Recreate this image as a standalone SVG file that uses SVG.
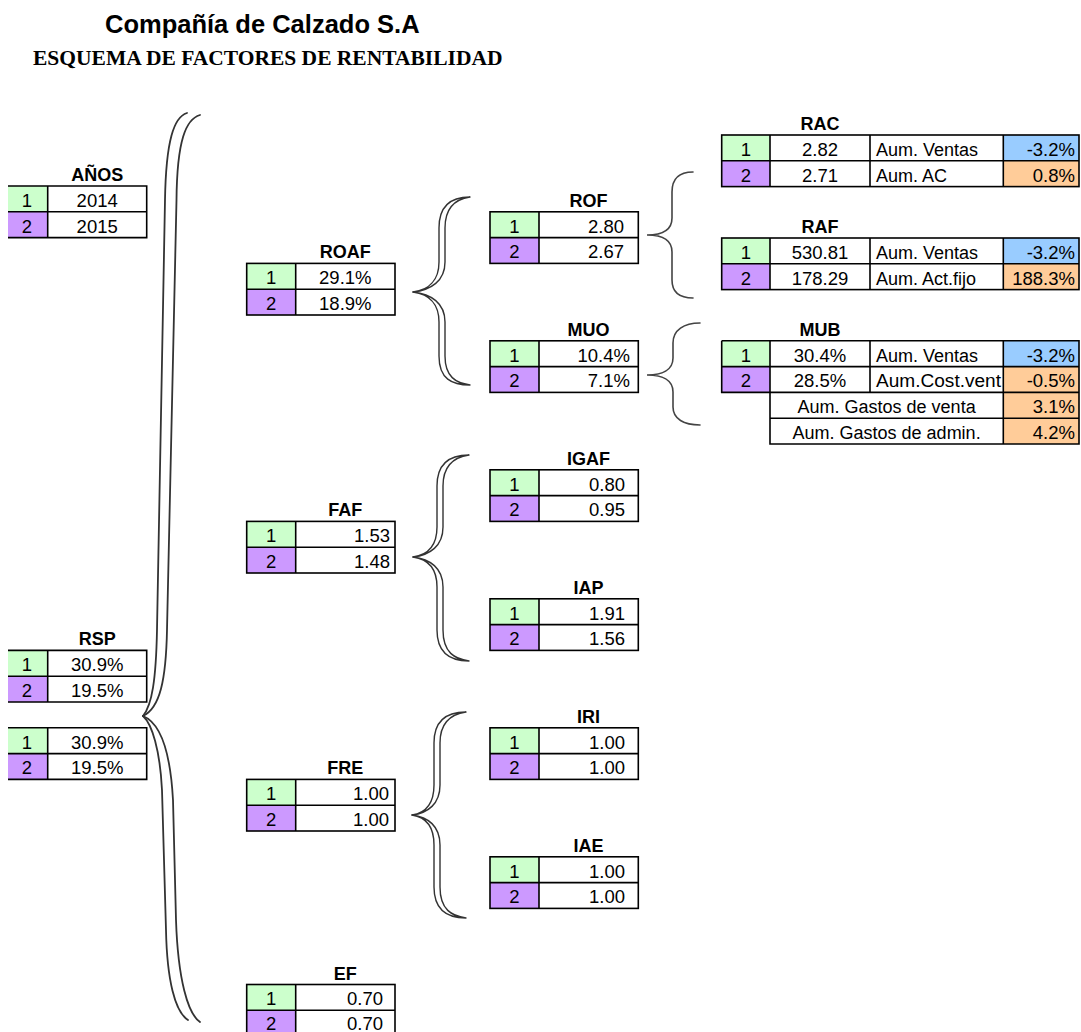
<svg xmlns="http://www.w3.org/2000/svg" width="1081" height="1032" viewBox="0 0 1081 1032">
  <style>
    .g { fill: #ccffcc; }
    .p { fill: #cc99ff; }
    .b { fill: #99ccff; }
    .o { fill: #ffcc99; }
    .frame { fill: none; stroke: #000; stroke-width: 1.6; }
    .rule { fill: none; stroke: #000; stroke-width: 1.6; }
    .brace2 { fill: #fff; stroke: #333; stroke-width: 1.4; stroke-linejoin: round; }
    .brace1 { fill: none; stroke: #444; stroke-width: 1.6; stroke-linecap: round; }
    .bigbrace { fill: none; stroke: #333; stroke-width: 1.8; stroke-linecap: round; }
    text { font-family: "Liberation Sans", Arial, sans-serif; fill: #000; }
    .lbl { font-size: 18px; font-weight: bold; text-anchor: middle; }
    .n { font-size: 18.5px; text-anchor: middle; }
    .vc { font-size: 18.5px; text-anchor: middle; }
    .vr { font-size: 18.5px; text-anchor: end; }
    .t { font-size: 18px; }
    .tc { font-size: 18px; text-anchor: middle; }
  </style>

  <rect x="0" y="0" width="1081" height="1032" fill="#fff"/>

  <g id="title">
    <text x="105" y="33" style="font-size:25.5px;font-weight:bold">Compañía de Calzado S.A</text>
    <text x="33" y="65" style="font-family:'Liberation Serif','Times New Roman',serif;font-size:21.5px;font-weight:bold">ESQUEMA DE FACTORES DE RENTABILIDAD</text>
  </g>

  <!-- connectors: braces linking each ratio to its factors -->
  <g id="connectors">
    <!-- large brace on the left -->
    <path class="bigbrace" d="M187,113 C174,117 166,140 165,200 L157,630 C156,680 152,705 143,716"/>
    <path class="bigbrace" d="M200,115 C186,119 177,140 176.5,200 L167,630 C166,680 160,708 143,716"/>
    <path class="bigbrace" d="M143,716 C152,724 160,750 162,790 L166,930 C167,980 175,1012 188,1020"/>
    <path class="bigbrace" d="M143,716 C158,722 170,745 173,800 L176,920 C178,980 188,1014 200,1022"/>

    <!-- ROAF brace -->
    <path class="brace2" d="M470,197 C452,197 439,205 439,228 L439,262 C439,281 428,290 413,292 C431,290 445,281 445,262 L445,228 C445,207 456,199 470,197 Z"/>
    <path class="brace2" d="M413,292 C428,294 439,303 439,322 L439,356 C439,379 452,385 470,385 C456,383 445,377 445,356 L445,322 C445,303 431,294 413,292 Z"/>

    <!-- FAF brace -->
    <path class="brace2" d="M469,455 C451,455 437,463 437,486 L437,527 C437,546 427,555 413,557 C430,555 443,546 443,527 L443,486 C443,465 455,457 469,455 Z"/>
    <path class="brace2" d="M413,557 C427,559 437,568 437,587 L437,630 C437,653 451,661 469,661 C455,659 443,653 443,630 L443,587 C443,568 430,559 413,557 Z"/>

    <!-- FRE brace -->
    <path class="brace2" d="M466,712 C448,712 434,720 434,743 L434,785 C434,804 425,813 412,815 C428,813 440,804 440,785 L440,743 C440,722 452,714 466,712 Z"/>
    <path class="brace2" d="M412,815 C425,817 434,826 434,845 L434,887 C434,910 448,918 466,918 C452,916 440,910 440,887 L440,845 C440,826 428,817 412,815 Z"/>

    <!-- ROF brace (RAC / RAF) -->
    <path class="brace1" d="M693,172 C680,172 672,178 672,192 L672,218 C672,230 662,235 647,235 C662,235 672,240 672,252 L672,280 C672,293 680,298 693,298"/>

    <!-- MUO brace (MUB) -->
    <path class="brace1" d="M700,323 C684,323 673,330 673,343 L673,358 C673,370 662,375 647,375 C662,375 673,380 673,392 L673,407 C673,419 684,425 700,425"/>
  </g>

  <!-- AÑOS -->
  <g id="node-anos">
    <rect class="g" x="8" y="186" width="39.7" height="25.8"/>
    <rect class="p" x="8" y="211.8" width="39.7" height="25.8"/>
    <path class="rule" d="M8,186H146.7V237.6H8M8,211.8H146.7M47.7,186V237.6"/>
    <text class="lbl" x="97.2" y="181">AÑOS</text>
    <text class="n" x="27" y="206.8">1</text>
    <text class="n" x="27" y="232.6">2</text>
    <text class="vc" x="97.2" y="206.8">2014</text>
    <text class="vc" x="97.2" y="232.6">2015</text>
  </g>

  <!-- RSP -->
  <g id="node-rsp">
    <rect class="g" x="8" y="650.4" width="39.7" height="25.8"/>
    <rect class="p" x="8" y="676.2" width="39.7" height="25.8"/>
    <path class="rule" d="M8,650.4H146.7V702H8M8,676.2H146.7M47.7,650.4V702"/>
    <text class="lbl" x="97.2" y="645.4">RSP</text>
    <text class="n" x="27" y="671.2">1</text>
    <text class="n" x="27" y="697">2</text>
    <text class="vc" x="97.2" y="671.2">30.9%</text>
    <text class="vc" x="97.2" y="697">19.5%</text>
  </g>

  <g id="node-rsp-2">
    <rect class="g" x="8" y="727.8" width="39.7" height="25.8"/>
    <rect class="p" x="8" y="753.6" width="39.7" height="25.8"/>
    <path class="rule" d="M8,727.8H146.7V779.4H8M8,753.6H146.7M47.7,727.8V779.4"/>
    <text class="n" x="27" y="748.6">1</text>
    <text class="n" x="27" y="774.4">2</text>
    <text class="vc" x="97.2" y="748.6">30.9%</text>
    <text class="vc" x="97.2" y="774.4">19.5%</text>
  </g>

  <!-- ROAF -->
  <g id="node-roaf">
    <rect class="g" x="246.7" y="263.4" width="49" height="25.8"/>
    <rect class="p" x="246.7" y="289.2" width="49" height="25.8"/>
    <rect class="frame" x="246.7" y="263.4" width="148.3" height="51.6"/>
    <path class="rule" d="M246.7,289.2H395M295.7,263.4V315"/>
    <text class="lbl" x="345.3" y="258.4">ROAF</text>
    <text class="n" x="271.2" y="284.2">1</text>
    <text class="n" x="271.2" y="310">2</text>
    <text class="vc" x="345.3" y="284.2">29.1%</text>
    <text class="vc" x="345.3" y="310">18.9%</text>
  </g>

  <!-- FAF -->
  <g id="node-faf">
    <rect class="g" x="246.7" y="521.4" width="49" height="25.8"/>
    <rect class="p" x="246.7" y="547.2" width="49" height="25.8"/>
    <rect class="frame" x="246.7" y="521.4" width="148.3" height="51.6"/>
    <path class="rule" d="M246.7,547.2H395M295.7,521.4V573"/>
    <text class="lbl" x="345.3" y="516.4">FAF</text>
    <text class="n" x="271.2" y="542.2">1</text>
    <text class="n" x="271.2" y="568">2</text>
    <text class="vr" x="390" y="542.2">1.53</text>
    <text class="vr" x="390" y="568">1.48</text>
  </g>

  <!-- FRE -->
  <g id="node-fre">
    <rect class="g" x="246.7" y="779.4" width="49" height="25.8"/>
    <rect class="p" x="246.7" y="805.2" width="49" height="25.8"/>
    <rect class="frame" x="246.7" y="779.4" width="148.3" height="51.6"/>
    <path class="rule" d="M246.7,805.2H395M295.7,779.4V831"/>
    <text class="lbl" x="345.3" y="774.4">FRE</text>
    <text class="n" x="271.2" y="800.2">1</text>
    <text class="n" x="271.2" y="826">2</text>
    <text class="vr" x="389" y="800.2">1.00</text>
    <text class="vr" x="389" y="826">1.00</text>
  </g>

  <!-- EF -->
  <g id="node-ef">
    <rect class="g" x="246.7" y="984.5" width="49" height="25.8"/>
    <rect class="p" x="246.7" y="1010.3" width="49" height="25.8"/>
    <rect class="frame" x="246.7" y="984.5" width="148.3" height="51.6"/>
    <path class="rule" d="M246.7,1010.3H395M295.7,984.5V1036.1"/>
    <text class="lbl" x="345.3" y="979.5">EF</text>
    <text class="n" x="271.2" y="1005.3">1</text>
    <text class="n" x="271.2" y="1030">2</text>
    <text class="vr" x="383" y="1005.3">0.70</text>
    <text class="vr" x="383" y="1030">0.70</text>
  </g>

  <!-- ROF -->
  <g id="node-rof">
    <rect class="g" x="490" y="211.8" width="49" height="25.8"/>
    <rect class="p" x="490" y="237.6" width="49" height="25.8"/>
    <rect class="frame" x="490" y="211.8" width="148.3" height="51.6"/>
    <path class="rule" d="M490,237.6H638.3M539,211.8V263.4"/>
    <text class="lbl" x="588.6" y="206.8">ROF</text>
    <text class="n" x="514.5" y="232.6">1</text>
    <text class="n" x="514.5" y="258.4">2</text>
    <text class="vr" x="624" y="232.6">2.80</text>
    <text class="vr" x="624" y="258.4">2.67</text>
  </g>

  <!-- MUO -->
  <g id="node-muo">
    <rect class="g" x="490" y="340.8" width="49" height="25.8"/>
    <rect class="p" x="490" y="366.6" width="49" height="25.8"/>
    <rect class="frame" x="490" y="340.8" width="148.3" height="51.6"/>
    <path class="rule" d="M490,366.6H638.3M539,340.8V392.4"/>
    <text class="lbl" x="588.6" y="335.8">MUO</text>
    <text class="n" x="514.5" y="361.6">1</text>
    <text class="n" x="514.5" y="387.4">2</text>
    <text class="vr" x="630" y="361.6">10.4%</text>
    <text class="vr" x="630" y="387.4">7.1%</text>
  </g>

  <!-- IGAF -->
  <g id="node-igaf">
    <rect class="g" x="490" y="469.8" width="49" height="25.8"/>
    <rect class="p" x="490" y="495.6" width="49" height="25.8"/>
    <rect class="frame" x="490" y="469.8" width="148.3" height="51.6"/>
    <path class="rule" d="M490,495.6H638.3M539,469.8V521.4"/>
    <text class="lbl" x="588.6" y="464.8">IGAF</text>
    <text class="n" x="514.5" y="490.6">1</text>
    <text class="n" x="514.5" y="516.4">2</text>
    <text class="vr" x="625" y="490.6">0.80</text>
    <text class="vr" x="625" y="516.4">0.95</text>
  </g>

  <!-- IAP -->
  <g id="node-iap">
    <rect class="g" x="490" y="598.8" width="49" height="25.8"/>
    <rect class="p" x="490" y="624.6" width="49" height="25.8"/>
    <rect class="frame" x="490" y="598.8" width="148.3" height="51.6"/>
    <path class="rule" d="M490,624.6H638.3M539,598.8V650.4"/>
    <text class="lbl" x="588.6" y="593.8">IAP</text>
    <text class="n" x="514.5" y="619.6">1</text>
    <text class="n" x="514.5" y="645.4">2</text>
    <text class="vr" x="625" y="619.6">1.91</text>
    <text class="vr" x="625" y="645.4">1.56</text>
  </g>

  <!-- IRI -->
  <g id="node-iri">
    <rect class="g" x="490" y="727.8" width="49" height="25.8"/>
    <rect class="p" x="490" y="753.6" width="49" height="25.8"/>
    <rect class="frame" x="490" y="727.8" width="148.3" height="51.6"/>
    <path class="rule" d="M490,753.6H638.3M539,727.8V779.4"/>
    <text class="lbl" x="588.6" y="722.8">IRI</text>
    <text class="n" x="514.5" y="748.6">1</text>
    <text class="n" x="514.5" y="774.4">2</text>
    <text class="vr" x="625" y="748.6">1.00</text>
    <text class="vr" x="625" y="774.4">1.00</text>
  </g>

  <!-- IAE -->
  <g id="node-iae">
    <rect class="g" x="490" y="856.8" width="49" height="25.8"/>
    <rect class="p" x="490" y="882.6" width="49" height="25.8"/>
    <rect class="frame" x="490" y="856.8" width="148.3" height="51.6"/>
    <path class="rule" d="M490,882.6H638.3M539,856.8V908.4"/>
    <text class="lbl" x="588.6" y="851.8">IAE</text>
    <text class="n" x="514.5" y="877.6">1</text>
    <text class="n" x="514.5" y="903.4">2</text>
    <text class="vr" x="625" y="877.6">1.00</text>
    <text class="vr" x="625" y="903.4">1.00</text>
  </g>

  <!-- RAC -->
  <g id="node-rac">
    <rect class="g" x="721.7" y="135" width="48.3" height="25.8"/>
    <rect class="p" x="721.7" y="160.8" width="48.3" height="25.8"/>
    <rect class="b" x="1003.3" y="135" width="75.7" height="25.8"/>
    <rect class="o" x="1003.3" y="160.8" width="75.7" height="25.8"/>
    <rect class="frame" x="721.7" y="135" width="357.3" height="51.6"/>
    <path class="rule" d="M721.7,160.8H1079M770,135V186.6M870,135V186.6M1003.3,135V186.6"/>
    <text class="lbl" x="820" y="130">RAC</text>
    <text class="n" x="745.8" y="155.8">1</text>
    <text class="n" x="745.8" y="181.6">2</text>
    <text class="vc" x="820" y="155.8">2.82</text>
    <text class="vc" x="820" y="181.6">2.71</text>
    <text class="t" x="876" y="155.8">Aum. Ventas</text>
    <text class="t" x="876" y="181.6">Aum. AC</text>
    <text class="vr" x="1075" y="155.8">-3.2%</text>
    <text class="vr" x="1075" y="181.6">0.8%</text>
  </g>

  <!-- RAF -->
  <g id="node-raf">
    <rect class="g" x="721.7" y="238" width="48.3" height="25.8"/>
    <rect class="p" x="721.7" y="263.8" width="48.3" height="25.8"/>
    <rect class="b" x="1003.3" y="238" width="75.7" height="25.8"/>
    <rect class="o" x="1003.3" y="263.8" width="75.7" height="25.8"/>
    <rect class="frame" x="721.7" y="238" width="357.3" height="51.6"/>
    <path class="rule" d="M721.7,263.8H1079M770,238V289.6M870,238V289.6M1003.3,238V289.6"/>
    <text class="lbl" x="820" y="233">RAF</text>
    <text class="n" x="745.8" y="258.8">1</text>
    <text class="n" x="745.8" y="284.6">2</text>
    <text class="vc" x="820" y="258.8">530.81</text>
    <text class="vc" x="820" y="284.6">178.29</text>
    <text class="t" x="876" y="258.8">Aum. Ventas</text>
    <text class="t" x="876" y="284.6">Aum. Act.fijo</text>
    <text class="vr" x="1075" y="258.8">-3.2%</text>
    <text class="vr" x="1075" y="284.6">188.3%</text>
  </g>

  <!-- MUB -->
  <g id="node-mub">
    <rect class="g" x="721.7" y="340.8" width="48.3" height="25.8"/>
    <rect class="p" x="721.7" y="366.6" width="48.3" height="25.8"/>
    <rect class="b" x="1003.3" y="340.8" width="75.7" height="25.8"/>
    <rect class="o" x="1003.3" y="366.6" width="75.7" height="77.4"/>
    <path class="rule" d="M721.7,340.8H1079V444H770V392.4M721.7,340.8V392.4H1079M721.7,366.6H1079M770,340.8V392.4M870,340.8V392.4M1003.3,340.8V444M770,418.2H1079"/>
    <text class="lbl" x="820" y="335.8">MUB</text>
    <text class="n" x="745.8" y="361.6">1</text>
    <text class="n" x="745.8" y="387.4">2</text>
    <text class="vc" x="820" y="361.6">30.4%</text>
    <text class="vc" x="820" y="387.4">28.5%</text>
    <text class="t" x="876" y="361.6">Aum. Ventas</text>
    <text class="t" x="876" y="387.4" textLength="125" lengthAdjust="spacingAndGlyphs">Aum.Cost.vent</text>
    <text class="tc" x="886.6" y="413.2">Aum. Gastos de venta</text>
    <text class="tc" x="886.6" y="439">Aum. Gastos de admin.</text>
    <text class="vr" x="1075" y="361.6">-3.2%</text>
    <text class="vr" x="1075" y="387.4">-0.5%</text>
    <text class="vr" x="1075" y="413.2">3.1%</text>
    <text class="vr" x="1075" y="439">4.2%</text>
  </g>
</svg>
